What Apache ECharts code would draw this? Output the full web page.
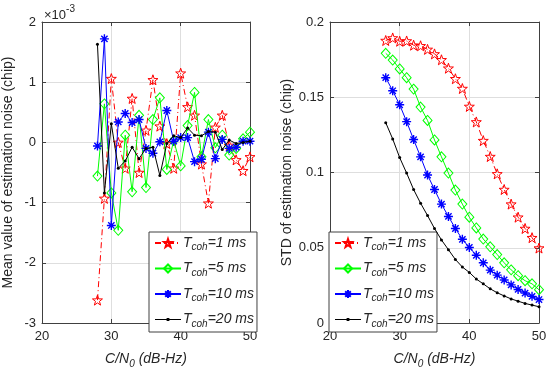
<!DOCTYPE html>
<html>
<head>
<meta charset="utf-8">
<script src="https://cdn.jsdelivr.net/npm/echarts@6/dist/echarts.min.js"></script>
<style>html,body{margin:0;padding:0;background:#fff}#c{width:550px;height:374px}</style>
</head>
<body>
<div id="c"></div>
<script>
// ---------- data ----------
var cn0 = [28,29,30,31,32,33,34,35,36,37,38,39,40,41,42,43,44,45,46,47,48,49,50];
var seriesNames = ['T_coh=1 ms','T_coh=5 ms','T_coh=10 ms','T_coh=20 ms'];
// Mean value (x1e-3 chip)
var mean1  = [-2.62,-0.93,1.06,0.0,-0.43,0.73,-0.50,0.20,1.04,0.27,-0.02,-0.43,1.15,0.59,0.45,-0.36,-1.01,0.25,0.45,-0.05,-0.29,-0.47,-0.24];
var mean5  = [-0.56,0.64,-0.84,-1.46,0.12,-0.82,0.45,-0.75,0.38,0.74,-0.45,0.03,-0.39,0.28,0.83,-0.24,0.38,-0.09,0.12,-0.21,-0.10,0.06,0.17];
var mean10 = [-0.06,1.72,-1.38,0.34,0.48,0.33,0.38,-0.10,-0.18,0.01,0.53,0.02,0.08,0.08,-0.32,-0.28,0.17,-0.27,0.05,-0.10,-0.08,0.02,0.02];
var mean20 = [1.63,-0.84,0.31,-0.43,-0.31,-0.08,-0.27,-0.10,-0.08,-0.55,-0.02,0.11,0.08,0.24,0.12,0.11,0.18,0.17,-0.12,0.04,-0.02,0.00,0.02];
// STD (chip)
var std1  = [0.1877,0.1894,0.1872,0.1874,0.1846,0.1842,0.1818,0.1788,0.1749,0.1693,0.1623,0.1558,0.1439,0.1336,0.1212,0.1106,0.0991,0.0887,0.0790,0.0703,0.0628,0.0567,0.0498];
var std5  = [0.1792,0.1747,0.1688,0.1630,0.1554,0.1435,0.1346,0.1216,0.1104,0.0996,0.0883,0.0790,0.0703,0.0632,0.0558,0.0506,0.0455,0.0400,0.0353,0.0314,0.0281,0.0260,0.0221];
var std10 = [0.1630,0.1543,0.1450,0.1338,0.1219,0.1104,0.0983,0.0887,0.0790,0.0708,0.0628,0.0556,0.0502,0.0450,0.0400,0.0351,0.0318,0.0286,0.0253,0.0223,0.0199,0.0177,0.0156];
var std20 = [0.1331,0.1223,0.1099,0.0996,0.0887,0.0796,0.0714,0.0628,0.0552,0.0487,0.0422,0.0372,0.0336,0.0292,0.0260,0.0227,0.0201,0.0180,0.0160,0.0145,0.0130,0.0119,0.0108];

// ---------- styles ----------
var FONT = 'Liberation Sans, Arial, Helvetica, sans-serif';
var AXC = '#404040', TXT = '#262626', GRIDC = '#dedede';
var STAR = 'path://M0,-1L0.235,-0.324L0.951,-0.309L0.380,0.124L0.588,0.809L0,0.4L-0.588,0.809L-0.380,0.124L-0.951,-0.309L-0.235,-0.324Z';
var AST = 'path://M0,-1L0,1M-1,0L1,0M-0.7,-0.7L0.7,0.7M-0.7,0.7L0.7,-0.7';
var DOTICON = 'path://M0,0L0.01,0L0.01,0.01ZM0,4.6L26,4.6L26,5.4L0,5.4ZM11.6,3.6L14.4,3.6L14.4,6.4L11.6,6.4ZM25.99,9.99L26,9.99L26,10Z';
var styles = [
  {color:'#ff0000', symbol:STAR, size:10, line:[6,3,1,3], fill:'rgba(0,0,0,0)', bw:1},
  {color:'#00ff00', symbol:'diamond', size:[9,10], line:'solid', fill:'rgba(0,0,0,0)', bw:1},
  {color:'#0000ff', symbol:AST, size:9, line:'solid', fill:'rgba(0,0,0,0)', bw:1.4},
  {color:'#000000', symbol:'circle', size:3, line:'solid', fill:'#000000', bw:0}
];

function pairs(ys){ return cn0.map(function(x,i){ return [x, ys[i]]; }); }
function mkSeries(idx, ys, axisIdx){
  var s = styles[idx];
  return {
    name: seriesNames[idx], type:'line', xAxisIndex:axisIdx, yAxisIndex:axisIdx,
    data: pairs(ys), symbol:s.symbol, symbolSize:s.size, showSymbol:true,
    lineStyle:{color:s.color, width:1, type:s.line},
    itemStyle:{color:s.fill, borderColor:s.color, borderWidth:s.bw},
    emphasis:{disabled:true}, animation:false, z: 2+idx
  };
}

function xAx(grid, pos){
  var main = pos === 'bottom';
  return {
    type:'value', gridIndex:grid, position:pos, min:20, max:50, interval:10,
    axisLine:{show:true, onZero:false, lineStyle:{color:AXC, width:1}},
    axisTick:{show:true, inside:true, length:4, lineStyle:{color:AXC}},
    axisLabel:{show:main, color:TXT, fontSize:13, fontFamily:FONT, margin:7},
    splitLine:{show:main, lineStyle:{color:GRIDC, width:1}},
    name: main ? '{i|C/N}{s|0}{i| (dB-Hz)}' : '',
    nameLocation:'middle', nameGap:27,
    nameTextStyle:{rich:{
      i:{fontSize:14, fontStyle:'italic', fontFamily:FONT, color:TXT},
      s:{fontSize:10, fontStyle:'italic', fontFamily:FONT, color:TXT, padding:[9,0,0,0]}
    }}
  };
}
function yAx(grid, pos, min, max, itv, name, gap){
  var main = pos === 'left';
  return {
    type:'value', gridIndex:grid, position:pos, min:min, max:max, interval:itv,
    axisLine:{show:true, onZero:false, lineStyle:{color:AXC, width:1}},
    axisTick:{show:true, inside:true, length:4, lineStyle:{color:AXC}},
    axisLabel:{show:main, color:TXT, fontSize:13, fontFamily:FONT, margin:6},
    splitLine:{show:main, lineStyle:{color:GRIDC, width:1}},
    name: main ? name : '', nameLocation:'middle', nameGap:gap, nameRotate:90,
    nameTextStyle:{fontSize:14, fontFamily:FONT, color:TXT}
  };
}

var legendRich = {
  t:{fontSize:14, fontStyle:'italic', fontFamily:FONT, color:TXT},
  s:{fontSize:10, fontStyle:'italic', fontFamily:FONT, color:TXT, padding:[9,0,0,0]}
};
function legendFmt(n){
  var p = n.split('_coh');
  return '{t|T}{s|coh}{t|' + p[1] + '}';
}
function mkLegend(left){
  var data = seriesNames.map(function(n, i){
    return i === 3 ? {name:n, icon:DOTICON, itemStyle:{color:'#000000', borderWidth:0}} : {name:n};
  });
  return {
    left:left, top:232, orient:'vertical', data:data,
    itemWidth:26, itemHeight:10, itemGap:9,
    padding:[4,3,3,5], backgroundColor:'#ffffff', borderColor:AXC, borderWidth:1,
    formatter:legendFmt, textStyle:{rich:legendRich, padding:[0,0,0,-3]},
    selectedMode:false
  };
}

var chart = echarts.init(document.getElementById('c'), null, {renderer:'canvas'});
chart.setOption({
  backgroundColor:'#ffffff',
  animation:false,
  textStyle:{fontFamily:FONT},
  grid:[
    {left:42, top:22, width:208, height:308, show:false},
    {left:330, top:22, width:209, height:308, show:false}
  ],
  xAxis:[ xAx(0,'bottom'), xAx(1,'bottom'), xAx(0,'top'), xAx(1,'top') ],
  yAxis:[
    yAx(0,'left',-3,2,1,'Mean value of estimation noise (chip)',27),
    yAx(1,'left',0,0.2,0.05,'STD of estimation noise (chip)',36),
    yAx(0,'right',-3,2,1,'',0),
    yAx(1,'right',0,0.2,0.05,'',0)
  ],
  legend:[ mkLegend(149), mkLegend(329) ],
  graphic:[{
    type:'text', left:44, top:4,
    style:{text:'{a|\u00d710}{b|-3}', rich:{
      a:{fontSize:13, fontFamily:FONT, fill:TXT, padding:[6,0,0,0]},
      b:{fontSize:10, fontFamily:FONT, fill:TXT, padding:[0,0,6,0]}
    }}
  }],
  series:[
    mkSeries(0,mean1,0), mkSeries(1,mean5,0), mkSeries(2,mean10,0), mkSeries(3,mean20,0),
    mkSeries(0,std1,1), mkSeries(1,std5,1), mkSeries(2,std10,1), mkSeries(3,std20,1)
  ]
});
</script>
</body>
</html>
